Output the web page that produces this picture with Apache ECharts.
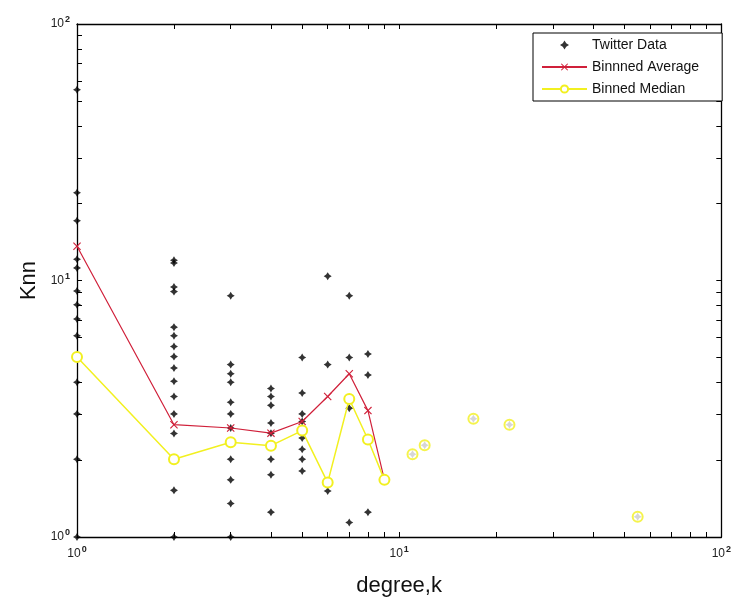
<!DOCTYPE html>
<html>
<head>
<meta charset="utf-8">
<script src="https://cdn.jsdelivr.net/npm/echarts@6/dist/echarts.min.js"></script>
<style>
  html, body { margin: 0; padding: 0; background: #ffffff; }
  #chart { width: 734px; height: 602px; }
</style>
</head>
<body>
<div id="chart"></div>
<script>
// Degree k of each group of raw points, and the Knn values measured at that degree
const pointDegrees = [1, 2, 3, 4, 5, 6, 7, 8, 9, 11, 12, 17, 22, 55];
const pointKnn = [
  [55.4, 22.0, 17.1, 12.1, 11.2, 9.1, 8.05, 7.08, 6.09, 5.03, 4.01, 3.02, 2.01, 1.0],
  [12.0, 11.7, 9.44, 9.05, 6.58, 6.09, 5.53, 5.05, 4.56, 4.05, 3.53, 3.02, 2.53, 2.01, 1.52, 1.0],
  [8.72, 4.70, 4.33, 4.01, 3.35, 3.02, 2.66, 2.34, 2.01, 1.67, 1.35, 1.0],
  [3.79, 3.53, 3.26, 2.78, 2.54, 2.27, 2.01, 1.75, 1.25],
  [5.01, 3.64, 3.02, 2.82, 2.60, 2.43, 2.20, 2.01, 1.81],
  [10.4, 4.70, 1.63, 1.51],
  [8.72, 5.01, 3.45, 3.18, 1.14],
  [5.17, 4.28, 2.40, 1.25],
  [1.67],
  [2.10],
  [2.28],
  [2.89],
  [2.74],
  [1.20]
];

// Binned statistics
const binDegrees = [1, 2, 3, 4, 5, 6, 7, 8, 9];
const binAverage = [13.6, 2.74, 2.66, 2.54, 2.82, 3.53, 4.33, 3.11, 1.67];
const binMedian = [5.03, 2.01, 2.34, 2.27, 2.60, 1.63, 3.45, 2.40, 1.67];

// Single-node bins beyond k = 9 (median markers only)
const soloDegrees = [11, 12, 17, 22, 55];
const soloMedian = [2.10, 2.28, 2.89, 2.74, 1.20];

// Axis decades and labels
const decades = [1, 10, 100];
const decadeExponents = ['0', '1', '2'];

const twitterPoints = [];
pointDegrees.forEach((k, i) => pointKnn[i].forEach(v => twitterPoints.push([k, v])));
const averagePoints = binDegrees.map((k, i) => [k, binAverage[i]]);
const medianPoints = binDegrees.map((k, i) => [k, binMedian[i]]);
const soloPoints = soloDegrees.map((k, i) => [k, soloMedian[i]]);

// Tick positions at 1..9 within each decade
const logTicks = [];
[1, 10].forEach(d => { for (let m = 1; m < 10; m++) logTicks.push(d * m); });
logTicks.push(100);

const crossPath = 'path://M0,1 L1,0 L5,4 L9,0 L10,1 L6,5 L10,9 L9,10 L5,6 L1,10 L0,9 L4,5 Z';
const starPath = 'path://M5,0 L6.9,3.1 L10,5 L6.9,6.9 L5,10 L3.1,6.9 L0,5 L3.1,3.1 Z';

function decadeLabel(v) {
  const i = decades.findIndex(d => Math.abs(d - v) < 1e-6 * d);
  if (i < 0) return '';
  return '{b|10}{s|' + decadeExponents[i] + '}';
}
const labelRich = {
  b: { fontFamily: 'Liberation Sans, Arial, sans-serif', fontSize: 12, color: '#222' },
  s: { fontFamily: 'Liberation Sans, Arial, sans-serif', fontSize: 9, fontWeight: 'bold', color: '#222', verticalAlign: 'bottom', padding: [0, 0, 8, 1] }
};

function makeAxis(opts) {
  return Object.assign({
    type: 'log',
    logBase: 10,
    min: 1,
    max: 100,
    axisLine: { show: true, onZero: false, lineStyle: { color: '#000', width: 1.3 } },
    axisTick: { show: true, inside: true, length: 5, customValues: logTicks, lineStyle: { color: '#000', width: 1 } },
    minorTick: { show: false },
    splitLine: { show: false },
    axisLabel: { show: false }
  }, opts);
}

const chart = echarts.init(document.getElementById('chart'), null, { renderer: 'canvas' });
chart.setOption({
  animation: false,
  backgroundColor: '#ffffff',
  grid: { left: 77, right: 7, top: 24, bottom: 65, containLabel: false },
  xAxis: [
    makeAxis({
      position: 'bottom',
      name: 'degree,k',
      nameLocation: 'middle',
      nameGap: 38,
      nameTextStyle: { fontFamily: 'Liberation Sans, Arial, sans-serif', fontSize: 22, color: '#111' },
      axisLabel: { show: true, customValues: decades, margin: 8, formatter: decadeLabel, rich: labelRich }
    }),
    makeAxis({ position: 'top' })
  ],
  yAxis: [
    makeAxis({
      position: 'left',
      name: 'Knn',
      nameLocation: 'middle',
      nameGap: 35,
      nameRotate: 90,
      nameTextStyle: { fontFamily: 'Liberation Sans, Arial, sans-serif', fontSize: 22, color: '#111' },
      axisLabel: { show: true, customValues: decades, margin: 7, formatter: decadeLabel, rich: labelRich }
    }),
    makeAxis({ position: 'right' })
  ],
  legend: {
    orient: 'vertical',
    left: 533,
    top: 33,
    backgroundColor: '#ffffff',
    borderColor: '#000',
    borderWidth: 1,
    borderRadius: 0,
    padding: [5, 23, 5, 8],
    itemWidth: 45,
    itemHeight: 9,
    itemGap: 8,
    symbolKeepAspect: true,
    textStyle: { fontFamily: 'Liberation Sans, Arial, sans-serif', fontSize: 14, color: '#111' },
    data: [
      { name: 'Twitter Data', icon: starPath },
      'Binnned Average',
      'Binned Median'
    ]
  },
  series: [
    {
      name: 'Twitter Data',
      type: 'scatter',
      data: twitterPoints,
      symbol: starPath,
      symbolSize: 8,
      symbolKeepAspect: true,
      itemStyle: { color: '#000' },
      z: 2
    },
    {
      name: 'Binnned Average',
      type: 'line',
      data: averagePoints,
      symbol: crossPath,
      symbolSize: 8,
      showAllSymbol: true,
      lineStyle: { color: '#d0203a', width: 1.2 },
      itemStyle: { color: '#d0203a' },
      z: 3
    },
    {
      name: 'Binned Median',
      type: 'line',
      data: medianPoints,
      symbol: 'emptyCircle',
      symbolSize: 10,
      showAllSymbol: true,
      lineStyle: { color: '#f2f020', width: 1.5 },
      itemStyle: { color: '#f2f020', borderColor: '#f2f020', borderWidth: 2 },
      z: 4
    },
    {
      name: 'Binned Median',
      type: 'scatter',
      data: soloPoints,
      symbol: 'emptyCircle',
      symbolSize: 10,
      itemStyle: { color: '#f2f020', borderColor: '#f2f020', borderWidth: 2 },
      z: 4
    }
  ]
});
</script>
</body>
</html>
